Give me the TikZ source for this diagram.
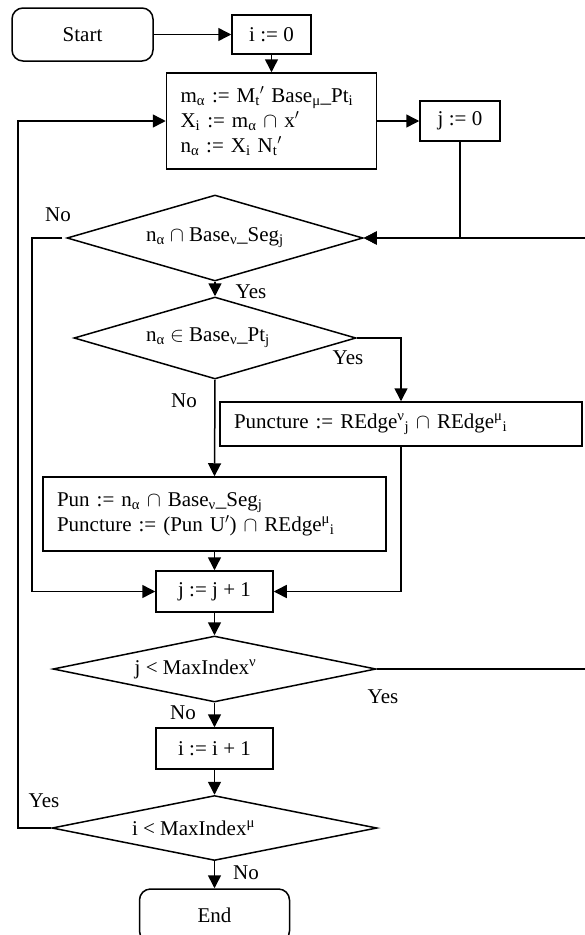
\documentclass[tikz,border=0pt]{standalone}
\usepackage{fontspec}
\setmainfont{Liberation Serif}
\usepackage{xcolor}
\usepackage{tikz}
\usetikzlibrary{shapes.geometric,arrows.meta}
\definecolor{ink}{HTML}{000000}

\tikzset{
  procbox/.style={draw=ink, line width=1.5pt, rectangle, inner xsep=14pt, inner ysep=0pt, font=\fontsize{21}{25}\selectfont},
  termbox/.style={draw=ink, line width=1.5pt, rectangle, rounded corners=11pt, inner sep=0pt, font=\fontsize{21}{25}\selectfont},
  decision/.style={draw=ink, line width=1.5pt, diamond, aspect=4, inner sep=0pt, font=\fontsize{21}{25}\selectfont},
  tag/.style={inner sep=0pt, font=\fontsize{21}{25}\selectfont},
  flow/.style={draw=ink, line width=1.5pt, -{Triangle[length=13pt,width=13pt]}},
}

\begin{document}
\begin{tikzpicture}[x=1pt, y=-1pt]
\useasboundingbox (0,0) rectangle (585,935);

\node[termbox, minimum width=141pt, minimum height=53pt] (start) at (82.5,34.5) {Start};
\node[procbox, minimum width=79pt, minimum height=39pt] (init) at (271.5,34.5) {i := 0};
\node[procbox, text width=182pt, align=left, minimum height=96pt] (calc) at (271.5,121) {
  m\textsubscript{α} := M\textsubscript{t}$'$ Base\textsubscript{μ}\_Pt\textsubscript{i}\\
  X\textsubscript{i} := m\textsubscript{α} $\cap$ x$'$\\
  n\textsubscript{α} := X\textsubscript{i} N\textsubscript{t}$'$};
\node[procbox, minimum width=80pt, minimum height=40pt] (jinit) at (460,121) {j := 0};

\node[decision, minimum width=296pt, minimum height=86pt] (segtest) at (215,238) {n\textsubscript{α} $\cap$ Base\textsubscript{ν}\_Seg\textsubscript{j}};
\node[decision, minimum width=282pt, minimum height=82pt] (pttest) at (215,338) {n\textsubscript{α} $\in$ Base\textsubscript{ν}\_Pt\textsubscript{j}\hspace*{14pt}};
\node[procbox, text width=334pt, align=left, minimum height=44pt] (punct) at (401,424) {Puncture := REdge\textsuperscript{ν}\textsubscript{j} $\cap$ REdge\textsuperscript{μ}\textsubscript{i}};
\node[procbox, text width=315pt, align=left, minimum height=74pt] (pun) at (214.5,514) {
  Pun := n\textsubscript{α} $\cap$ Base\textsubscript{ν}\_Seg\textsubscript{j}\\
  Puncture := (Pun U$'$) $\cap$ REdge\textsuperscript{μ}\textsubscript{i}};
\node[procbox, minimum width=117pt, minimum height=41pt] (jinc) at (214.5,591.5) {j := j + 1};
\node[decision, minimum width=323pt, minimum height=66pt] (jtest) at (214.5,669) {j < MaxIndex\textsuperscript{ν}\hspace*{38pt}};
\node[procbox, minimum width=117pt, minimum height=41pt] (iinc) at (214.5,748.5) {i := i + 1};
\node[decision, minimum width=325pt, minimum height=65pt] (itest) at (214.5,828) {i < MaxIndex\textsuperscript{μ}\hspace*{42pt}};
\node[termbox, minimum width=150pt, minimum height=53pt] (stop) at (214.5,915.5) {End};

\node[tag] (noseg) at (58,215) {No};
\node[tag] (yesseg) at (251,292) {Yes};
\node[tag] (yespt) at (348,358) {Yes};
\node[tag] (nopt) at (184,401) {No};
\node[tag] (yesj) at (383,697) {Yes};
\node[tag] (noj) at (183,713) {No};
\node[tag] (yesi) at (44,801) {Yes};
\node[tag] (noi) at (246,873) {No};

\coordinate (outerx) at (18,0);
\coordinate (innerx) at (32,0);
\coordinate (rightx) at (590,0);

\draw[flow] (start) -- (init);
\draw[flow] (init) -- (calc);
\draw[flow] (calc) -- (jinit);
\draw[flow] (jinit.south) |- (segtest.east);
\draw[flow] (jtest.east) -- (rightx |- jtest.east) |- (segtest.east);
\draw[flow] (segtest.south) -- (pttest.north);
\draw[flow, shorten <=4pt] (segtest.west) -| (innerx |- jinc.west) -- (jinc.west);
\draw[flow] (pttest.east) -| (punct.north);
\draw[flow] (pttest.south) -- (pun.north);
\draw[flow] (punct.south) |- (jinc.east);
\draw[flow] (pun.south) -- (jinc.north);
\draw[flow] (jinc.south) -- (jtest.north);
\draw[flow] (jtest.south) -- (iinc.north);
\draw[flow] (iinc.south) -- (itest.north);
\draw[flow] (itest.south) -- (stop.north);
\draw[flow] (itest.west) -| (outerx |- calc.west) -- (calc.west);
\end{tikzpicture}
\end{document}
